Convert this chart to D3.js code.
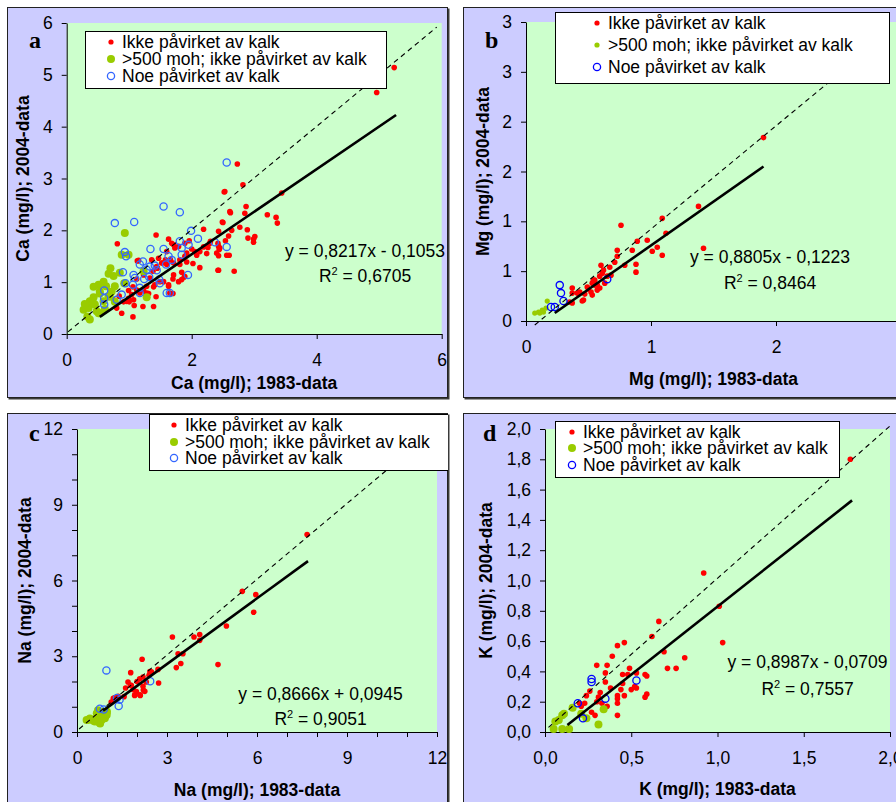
<!DOCTYPE html>
<html><head><meta charset="utf-8">
<script src="https://cdn.jsdelivr.net/npm/d3@7/dist/d3.min.js"></script>
<style>
body{margin:0;background:#fff;}
svg{display:block;}
text{font-family:"Liberation Sans",Arial,sans-serif;fill:#000;}
</style>
</head><body>
<svg id="chart" width="896" height="802"></svg>
<script>
// ---------------- DATA ----------------
const legendLabels = ["Ikke påvirket av kalk", ">500 moh; ikke påvirket av kalk", "Noe påvirket av kalk"];
const panelLetters = ["a", "b", "c", "d"];
const xTitles = ["Ca (mg/l); 1983-data", "Mg (mg/l); 1983-data", "Na (mg/l); 1983-data", "K (mg/l); 1983-data"];
const yTitles = ["Ca (mg/l); 2004-data", "Mg (mg/l); 2004-data", "Na (mg/l); 2004-data", "K (mg/l); 2004-data"];
const equations = ["y = 0,8217x - 0,1053", "y = 0,8805x - 0,1223", "y = 0,8666x + 0,0945", "y = 0,8987x - 0,0709"];
const r2Values = ["0,6705", "0,8464", "0,9051", "0,7557"];
const regSlope = [0.8217, 0.8805, 0.8666, 0.8987];
const regIntercept = [-0.1053, -0.1223, 0.0945, -0.0709];
const regXRange = [[0.53, 5.27], [0.23, 1.9], [0.87, 7.7], [0.13, 1.78]];
const diagLines = [[[0.02, 0.04], [5.92, 5.92]], [[0.07, -0.04], [2.9, 2.89]], [[0.07, 0.12], [11.8, 11.85]], [[0.02, 0.03], [2.01, 2.03]]];

const caXTicks = [0, 2, 4, 6];
const caYTicks = [0, 1, 2, 3, 4, 5, 6];
const mgXTicks = [0, 1, 2, 3];
const mgYTicks = [0, 0.5, 1, 1.5, 2, 2.5, 3];
const mgYTickLabels = ["0", "1", "1", "2", "2", "3", "3"];
const naTicks = [0, 1, 2, 3, 4, 5, 6, 7, 8, 9, 10, 11, 12];
const naTickLabels = ["0", "", "", "3", "", "", "6", "", "", "9", "", "", "12"];
const kXTicks = [0, 0.5, 1, 1.5, 2];
const kXTickLabels = ["0,0", "0,5", "1,0", "1,5", "2,0"];
const kYTicks = [0, 0.2, 0.4, 0.6, 0.8, 1.0, 1.2, 1.4, 1.6, 1.8, 2.0];
const kYTickLabels = ["0,0", "0,2", "0,4", "0,6", "0,8", "1,0", "1,2", "1,4", "1,6", "1,8", "2,0"];

const caRed = [[5.24,5.14],[4.96,4.66],[3.44,2.72],[2.73,3.28],[2.82,2.88],[2.53,2.75],[2.87,2.46],[2.85,2.33],[2.61,2.36],[3.21,2.30],[3.35,2.25],[3.37,2.14],[2.50,2.15],[2.77,2.06],[2.89,2.01],[2.19,2.02],[2.43,1.98],[2.64,2.0],[2.59,1.89],[3.01,1.88],[2.99,1.83],[2.90,1.85],[2.99,1.77],[2.43,1.69],[2.45,1.66],[2.29,1.75],[2.19,1.68],[2.40,1.56],[2.43,1.51],[2.60,1.52],[2.24,1.55],[2.05,1.59],[1.96,1.80],[2.0,1.64],[2.02,1.36],[2.13,1.28],[2.43,1.23],[2.68,1.21],[1.43,1.91],[0.81,1.74],[1.63,1.83],[1.68,1.75],[1.73,1.66],[1.79,1.69],[1.89,1.75],[1.89,1.50],[1.81,1.43],[1.71,1.37],[1.60,1.34],[1.53,1.37],[1.44,1.30],[1.38,1.21],[1.33,1.08],[1.41,0.95],[1.28,0.92],[1.23,0.85],[1.17,0.79],[1.28,0.79],[1.12,0.85],[1.04,0.76],[1.07,0.66],[0.96,0.63],[0.99,0.84],[1.06,0.91],[1.12,1.06],[1.23,1.14],[1.84,1.19],[1.84,1.05],[1.89,1.11],[1.71,1.14],[1.70,1.06],[1.63,0.95],[1.55,1.01],[1.65,0.79],[1.70,0.78],[1.39,0.53],[1.22,0.53],[1.08,0.55],[1.06,0.33],[0.88,0.40],[0.80,0.50],[0.75,0.66],[0.84,0.73],[0.99,0.69],[1.15,1.42],[1.36,1.43],[1.47,1.46],[1.58,1.43],[1.60,1.59],[1.71,1.72],[2.13,1.59],[1.92,1.56],[2.30,1.79],[2.54,1.80],[2.26,1.67],[2.44,1.63],[2.56,1.52],[2.08,1.52],[2.42,1.23],[1.66,1.43],[1.81,1.34],[1.92,1.39],[1.52,1.37],[1.45,1.27],[1.88,1.10],[1.49,1.01],[1.43,0.72],[1.31,0.78],[1.00,0.62],[0.91,0.62],[1.13,1.41],[2.52,2.74],[2.62,2.34],[2.49,2.16],[2.42,1.75],[1.79,1.01],[1.63,0.92],[1.39,0.91]];
const caGreen = [[0.93,1.95],[0.88,1.53],[0.99,1.53],[0.70,1.27],[0.67,1.16],[0.75,1.12],[0.85,1.18],[0.51,0.95],[0.53,0.82],[0.43,0.71],[0.37,0.63],[0.27,0.47],[0.35,0.50],[0.29,0.58],[0.37,0.28],[0.33,0.34],[0.48,0.44],[0.59,0.63],[0.67,0.73],[0.72,0.82],[0.77,0.92],[0.53,0.40],[0.61,0.48],[0.45,0.57],[1.28,0.71],[1.23,1.21],[0.92,0.98],[0.63,0.92],[0.59,1.01],[0.43,0.91],[0.53,0.78],[0.69,0.72],[0.43,0.59],[0.51,0.40],[0.77,0.62]];
const caBlue = [[2.56,3.31],[1.55,2.46],[1.81,2.35],[0.77,2.14],[1.08,2.16],[1.99,1.99],[2.10,1.84],[2.56,1.68],[2.37,1.77],[1.81,1.79],[1.84,1.66],[1.95,1.72],[1.34,1.64],[1.55,1.64],[0.93,1.58],[0.95,1.50],[1.63,1.50],[1.68,1.43],[1.84,1.53],[1.59,1.34],[1.22,1.40],[1.17,1.34],[1.33,1.30],[1.41,1.32],[1.28,1.24],[1.44,1.23],[0.90,1.19],[1.07,1.14],[1.09,1.08],[1.24,1.06],[1.32,1.10],[1.94,1.14],[0.94,0.98],[1.06,0.95],[1.17,0.89],[1.49,0.98],[1.60,0.79],[1.65,0.79],[0.60,0.84],[0.60,0.69],[0.60,0.57],[0.80,0.66],[0.88,0.76],[1.17,0.79],[1.48,1.05]];

const mgRed = [[1.90,1.84],[1.38,1.15],[1.42,0.73],[1.09,1.03],[1.12,0.88],[0.76,0.96],[0.97,0.81],[0.89,0.80],[0.85,0.71],[0.73,0.71],[1.01,0.70],[1.05,0.74],[1.09,0.66],[0.71,0.59],[0.79,0.56],[0.88,0.57],[0.88,0.49],[0.60,0.56],[0.62,0.51],[0.55,0.41],[0.59,0.45],[0.63,0.38],[0.57,0.36],[0.57,0.31],[0.53,0.38],[0.49,0.34],[0.53,0.26],[0.45,0.20],[0.37,0.33],[0.37,0.28],[0.37,0.18],[0.41,0.28],[0.65,0.45],[0.68,0.46],[0.73,0.65],[0.67,0.54],[0.61,0.48],[0.54,0.41],[0.50,0.32],[0.52,0.29],[0.47,0.27],[0.43,0.29],[0.46,0.21],[0.35,0.19],[0.59,0.33],[0.55,0.36]];
const mgGreen = [[0.07,0.08],[0.11,0.08],[0.14,0.09],[0.16,0.13],[0.17,0.20],[0.10,0.09],[0.13,0.11]];
const mgBlue = [[0.27,0.36],[0.28,0.28],[0.30,0.20],[0.20,0.14],[0.23,0.14],[0.65,0.42]];

const naRed = [[7.67,7.82],[5.51,5.57],[5.96,5.44],[5.89,4.74],[4.98,4.20],[3.18,3.76],[3.90,3.76],[4.09,3.86],[4.09,3.63],[3.37,3.10],[3.53,3.10],[3.46,2.71],[3.31,2.55],[4.70,2.67],[2.17,2.88],[1.79,2.35],[2.48,2.38],[2.70,2.48],[2.72,1.94],[2.09,2.11],[2.20,2.18],[1.70,1.98],[1.81,1.85],[1.62,1.74],[1.87,1.68],[1.92,1.45],[2.11,1.45],[2.26,1.61],[2.20,1.81],[2.31,1.98],[1.26,1.35],[1.37,1.41],[1.14,1.19],[2.43,2.39],[1.78,1.85],[2.21,1.66],[1.93,1.47],[1.57,1.40],[1.21,1.33],[2.10,1.47],[1.98,1.60],[2.00,2.0],[2.40,2.25]];
const naGreen = [[0.32,0.48],[0.43,0.53],[0.60,0.42],[0.82,0.48],[0.93,0.54],[0.99,0.67],[0.74,0.67],[0.88,0.80],[1.0,0.80],[0.66,0.74],[0.77,0.34],[0.40,0.49],[0.64,0.53],[0.76,0.36],[0.92,0.59],[0.98,0.75],[0.70,0.86],[0.85,0.60],[0.55,0.45]];
const naBlue = [[0.98,2.44],[2.44,2.01],[1.39,1.03],[1.33,1.35],[0.76,0.92],[0.89,0.89],[1.42,1.28]];

const kRed = [[1.77,1.80],[0.92,1.05],[1.01,0.83],[1.03,0.59],[0.66,0.73],[0.62,0.63],[0.69,0.53],[0.81,0.49],[0.71,0.42],[0.76,0.42],[0.46,0.59],[0.42,0.57],[0.39,0.50],[0.30,0.44],[0.36,0.44],[0.49,0.42],[0.45,0.38],[0.53,0.39],[0.58,0.38],[0.59,0.37],[0.35,0.39],[0.35,0.33],[0.38,0.29],[0.45,0.32],[0.44,0.28],[0.50,0.28],[0.53,0.29],[0.59,0.25],[0.58,0.23],[0.46,0.24],[0.42,0.24],[0.42,0.22],[0.42,0.19],[0.42,0.11],[0.32,0.26],[0.31,0.23],[0.30,0.20],[0.33,0.19],[0.36,0.17],[0.27,0.13],[0.29,0.11],[0.24,0.24],[0.23,0.19],[0.21,0.17],[0.20,0.19],[0.26,0.27],[0.48,0.38],[0.52,0.30]];
const kGreen = [[0.05,0.02],[0.06,0.07],[0.10,0.11],[0.11,0.12],[0.10,0.02],[0.14,0.02],[0.16,0.16],[0.24,0.09],[0.31,0.05],[0.34,0.15],[0.08,0.08],[0.21,0.12]];
const kBlue = [[0.19,0.19],[0.22,0.09],[0.27,0.35],[0.27,0.33],[0.35,0.22],[0.53,0.34]];

// ---------------- LAYOUT / STYLE ----------------
const FONT = 17.5;
const panels = [
  { red: caRed, green: caGreen, blue: caBlue, blueColor: "#3366ff", greenR: 4,
    box: {x: 7, y: 7, w: 441, h: 391}, plot: {l: 66.7, r: 441.7, t: 23, b: 334},
    xDom: [0, 6], yDom: [0, 6], xTicks: caXTicks, xLabels: caXTicks.map(String), yTicks: caYTicks, yLabels: caYTicks.map(String),
    legend: {x: 85, y: 31, w: 301, h: 57, rows: [48, 65, 82], mx: 111, tx: 122},
    eq: {cx: 365, y1: 257, y2: 282}, xTitleY: 389, yTitleX: 29.3, letter: [29, 48] },
  { red: mgRed, green: mgGreen, blue: mgBlue, blueColor: "#0000ff", greenR: 2.6,
    box: {x: 463, y: 7, w: 440, h: 391}, plot: {l: 526, r: 901, t: 22, b: 321},
    xDom: [0, 3], yDom: [0, 3], xTicks: mgXTicks, xLabels: mgXTicks.map(String), yTicks: mgYTicks, yLabels: mgYTickLabels,
    legend: {x: 555, y: 12, w: 334, h: 71, rows: [29, 51, 73], mx: 597, tx: 608},
    eq: {cx: 770, y1: 263, y2: 289}, xTitleY: 385, yTitleX: 489, letter: [485, 48] },
  { red: naRed, green: naGreen, blue: naBlue, blueColor: "#3366ff", greenR: 4,
    box: {x: 7, y: 413, w: 441, h: 400}, plot: {l: 77, r: 437, t: 429, b: 732},
    xDom: [0, 12], yDom: [0, 12], xTicks: naTicks, xLabels: naTickLabels, yTicks: naTicks, yLabels: naTickLabels,
    legend: {x: 149, y: 414, w: 300, h: 56, rows: [431, 448, 464], mx: 174, tx: 185},
    eq: {cx: 320.5, y1: 700, y2: 725}, xTitleY: 796, yTitleX: 31, letter: [29, 441] },
  { red: kRed, green: kGreen, blue: kBlue, blueColor: "#0000ff", greenR: 4,
    box: {x: 463, y: 413, w: 440, h: 400}, plot: {l: 545, r: 890, t: 429, b: 732},
    xDom: [0, 2], yDom: [0, 2], xTicks: kXTicks, xLabels: kXTickLabels, yTicks: kYTicks, yLabels: kYTickLabels,
    legend: {x: 555, y: 421, w: 284, h: 56, rows: [438, 454, 471], mx: 572, tx: 583},
    eq: {cx: 807.5, y1: 668, y2: 695}, xTitleY: 795, yTitleX: 492, letter: [483, 441] }
];

const svg = d3.select("#chart");
const defs = svg.append("defs");

panels.forEach((p, i) => {
  const clipId = "clip" + i;
  defs.append("clipPath").attr("id", clipId)
    .append("rect").attr("x", p.box.x).attr("y", p.box.y).attr("width", p.box.w).attr("height", p.box.h);

  // shadow + box
  svg.append("rect").attr("x", p.box.x + 1.5).attr("y", p.box.y + 1.5).attr("width", p.box.w).attr("height", p.box.h)
    .attr("fill", "#3a3a3a");
  svg.append("rect").attr("x", p.box.x + 0.5).attr("y", p.box.y + 0.5).attr("width", p.box.w - 1).attr("height", p.box.h - 1)
    .attr("fill", "#ccccff").attr("stroke", "#222").attr("stroke-width", 1);

  const g = svg.append("g").attr("clip-path", `url(#${clipId})`);
  const x = d3.scaleLinear().domain(p.xDom).range([p.plot.l, p.plot.r]);
  const y = d3.scaleLinear().domain(p.yDom).range([p.plot.b, p.plot.t]);

  // plot area
  g.append("rect").attr("x", x(p.xDom[0])).attr("y", y(p.yDom[1]))
    .attr("width", x(p.xDom[1]) - x(p.xDom[0])).attr("height", y(p.yDom[0]) - y(p.yDom[1]))
    .attr("fill", "#ccffcc");

  // axes
  const xAxis = d3.axisBottom(x).tickValues(p.xTicks).tickFormat((d, k) => p.xLabels[k])
    .tickSize(5).tickSizeOuter(0).tickPadding(14.6);
  const yAxis = d3.axisLeft(y).tickValues(p.yTicks).tickFormat((d, k) => p.yLabels[k])
    .tickSize(5).tickSizeOuter(0).tickPadding(9);
  const gx = g.append("g").attr("transform", `translate(0,${p.plot.b})`).call(xAxis);
  const gy = g.append("g").attr("transform", `translate(${p.plot.l},0)`).call(yAxis);
  [gx, gy].forEach(ax => {
    ax.selectAll("text").attr("font-size", FONT).attr("font-family", '"Liberation Sans", Arial, sans-serif').attr("fill", "#000");
    ax.selectAll("line,path").attr("stroke", "#000").attr("stroke-width", 1);
  });

  // points
  g.append("g").selectAll("circle").data(p.red).join("circle")
    .attr("cx", d => x(d[0])).attr("cy", d => y(d[1])).attr("r", 2.8).attr("fill", "#ff0000");
  g.append("g").selectAll("circle").data(p.green).join("circle")
    .attr("cx", d => x(d[0])).attr("cy", d => y(d[1])).attr("r", p.greenR).attr("fill", "#99cc00");
  g.append("g").selectAll("circle").data(p.blue).join("circle")
    .attr("cx", d => x(d[0])).attr("cy", d => y(d[1])).attr("r", 3.6)
    .attr("fill", "none").attr("stroke", p.blueColor).attr("stroke-width", 1.3);

  // 1:1 dashed line
  const line = d3.line().x(d => x(d[0])).y(d => y(d[1]));
  g.append("path").attr("d", line(diagLines[i])).attr("fill", "none")
    .attr("stroke", "#000").attr("stroke-width", 1.1).attr("stroke-dasharray", "5,4");
  // regression line
  const reg = regXRange[i].map(v => [v, regSlope[i] * v + regIntercept[i]]);
  g.append("path").attr("d", line(reg)).attr("fill", "none")
    .attr("stroke", "#000").attr("stroke-width", 2.6);

  // equation
  g.append("text").attr("x", p.eq.cx).attr("y", p.eq.y1).attr("text-anchor", "middle")
    .attr("font-size", FONT).text(equations[i]);
  const r2 = g.append("text").attr("x", p.eq.cx).attr("y", p.eq.y2).attr("text-anchor", "middle")
    .attr("font-size", FONT);
  r2.append("tspan").text("R");
  r2.append("tspan").attr("font-size", 11).attr("dy", -7).text("2");
  r2.append("tspan").attr("dy", 7).text(" = " + r2Values[i]);

  // legend
  const L = p.legend;
  g.append("rect").attr("x", L.x + 0.5).attr("y", L.y + 0.5).attr("width", L.w).attr("height", L.h)
    .attr("fill", "#fff").attr("stroke", "#000").attr("stroke-width", 1);
  const markerY = L.rows.map(r => r - 6);
  g.append("circle").attr("cx", L.mx).attr("cy", markerY[0]).attr("r", 2.6).attr("fill", "#ff0000");
  g.append("circle").attr("cx", L.mx).attr("cy", markerY[1]).attr("r", p.greenR).attr("fill", "#99cc00");
  g.append("circle").attr("cx", L.mx).attr("cy", markerY[2]).attr("r", 3.6).attr("fill", "none")
    .attr("stroke", p.blueColor).attr("stroke-width", 1.3);
  legendLabels.forEach((lab, k) => {
    g.append("text").attr("x", L.tx).attr("y", L.rows[k]).attr("font-size", FONT).text(lab);
  });

  // axis titles
  g.append("text").attr("x", (p.plot.l + p.plot.r) / 2).attr("y", p.xTitleY).attr("text-anchor", "middle")
    .attr("font-size", FONT).attr("font-weight", "bold").text(xTitles[i]);
  g.append("text").attr("transform", `translate(${p.yTitleX},${(p.plot.t + p.plot.b) / 2}) rotate(-90)`)
    .attr("text-anchor", "middle").attr("font-size", FONT).attr("font-weight", "bold").text(yTitles[i]);

  // panel letter
  g.append("text").attr("x", p.letter[0]).attr("y", p.letter[1])
    .attr("font-family", '"Liberation Serif", "Times New Roman", serif').attr("font-weight", "bold")
    .attr("font-size", 24).style("font-family", '"Liberation Serif", serif').text(panelLetters[i]);
});
</script>
</body></html>
